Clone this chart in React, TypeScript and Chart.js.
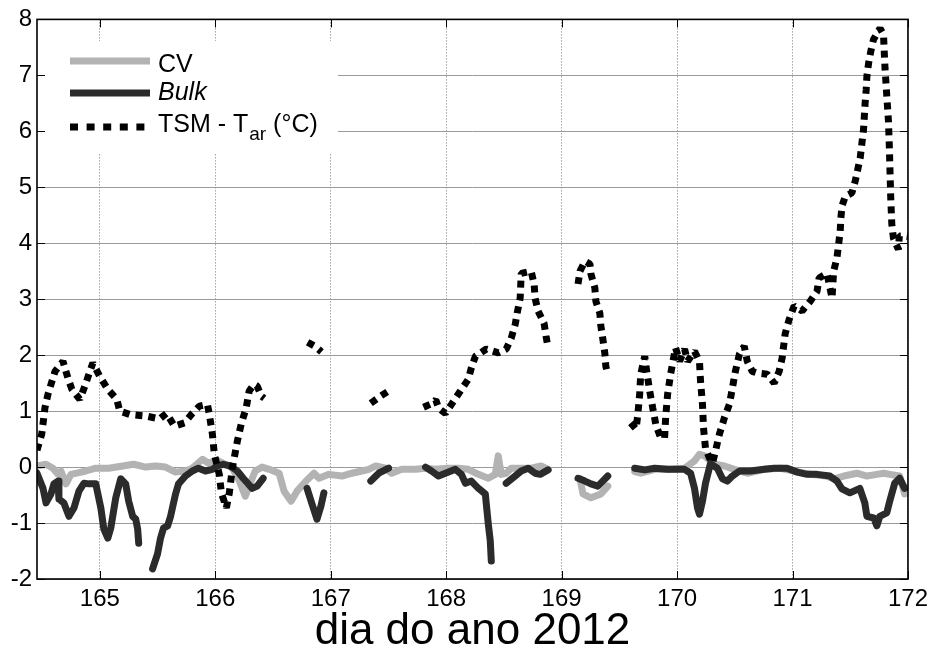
import React, { useEffect, useRef } from "react";
import { Chart, registerables } from "chart.js";

Chart.register(...registerables);

// ---- tick labels ----
const xTickValues = [165, 166, 167, 168, 169, 170, 171, 172];
const yTickValues = [-2, -1, 0, 1, 2, 3, 4, 5, 6, 7, 8];
const xAxisTitle = "dia do ano 2012";
const legendLabels = ["CV", "Bulk", "TSM - T", "ar", " (°C)"];

// ---- TSM - Tar (°C), null = gap ----
const tsmDays = [
  164.456, 164.497, 164.525, 164.551, 164.612, 164.681, 164.724, 164.758, 164.827, 164.871,
  164.914, 164.94, 165.0, 165.069, 165.147, 165.173, 165.259, 165.406, 165.518, 165.578,
  165.647, 165.733, 165.802, 165.863, 165.932, 165.949, 165.975, 165.992, 166.035, 166.053,
  166.096, 166.122, 166.148, 166.191, 166.225, 166.268, 166.294, 166.337, 166.363, 166.398,
  166.424, 166.6,
  166.8, 166.87, 166.92, 167.1,
  167.347, 167.433, 167.502, 167.65,
  167.804, 167.87, 167.91, 167.935, 167.994, 168.046, 168.123, 168.192, 168.218, 168.253,
  168.348, 168.451, 168.52, 168.563, 168.598, 168.615, 168.641, 168.65, 168.736, 168.762,
  168.77, 168.796, 168.848, 168.865, 168.883, 169.0,
  169.142, 169.159, 169.202, 169.245, 169.254, 169.288, 169.297, 169.331, 169.34, 169.357,
  169.374, 169.383, 169.4, 169.5,
  169.599, 169.645, 169.66, 169.676, 169.685, 169.72, 169.737, 169.763, 169.789, 169.815,
  169.858, 169.892, 169.901, 169.918, 169.944, 169.97, 169.987, 170.022, 170.065, 170.091,
  170.151, 170.194, 170.203, 170.22, 170.229, 170.246, 170.281, 170.307, 170.333, 170.367,
  170.41, 170.453, 170.479, 170.505, 170.54, 170.582, 170.608, 170.651, 170.695, 170.781,
  170.841, 170.884, 170.91, 170.936, 170.971, 171.014, 171.083, 171.152, 171.212, 171.23,
  171.299, 171.342, 171.356, 171.385, 171.399, 171.413, 171.418, 171.428, 171.457, 171.514,
  171.543, 171.586, 171.601, 171.615, 171.622, 171.629, 171.638, 171.644, 171.659, 171.678,
  171.701, 171.758, 171.788, 171.793, 171.801, 171.816, 171.831, 171.839, 171.845, 171.851,
  171.86, 171.874, 171.917, 171.925, 171.965, 172.0,
];
const tsmValues = [
  0.3, 0.59, 1.06, 1.3, 1.71, 1.89, 1.59, 1.39, 1.21, 1.45,
  1.71, 1.86, 1.62, 1.39, 1.21, 1.0, 0.94, 0.91, 0.86, 0.96,
  0.73, 0.79, 0.96, 1.09, 1.12, 0.94, 0.59, 0.23, -0.13, -0.46,
  -0.73, -0.46, -0.02, 0.46, 0.77, 1.06, 1.36, 1.48, 1.45, 1.27,
  1.23, null,
  2.23, 2.15, 2.06, null,
  1.14, 1.27, 1.36, null,
  1.07, 1.13, 1.2, 1.05, 0.96, 1.12, 1.36, 1.57, 1.77, 1.98,
  2.11, 2.04, 2.11, 2.3, 2.55, 2.75, 3.02, 3.46, 3.5, 3.27,
  3.02, 2.79, 2.57, 2.34, 2.13, null,
  3.27, 3.5, 3.68, 3.63, 3.45, 3.2, 2.96, 2.75, 2.52, 2.29,
  2.04, 1.8, 1.66, null,
  0.79, 0.68, 0.94, 1.3, 1.66, 1.98, 1.71, 1.36, 1.06, 0.77,
  0.52, 0.52, 0.88, 1.3, 1.66, 1.95, 2.13, 1.89, 2.11, 1.89,
  2.07, 1.89, 1.54, 1.12, 0.7, 0.34, 0.16, 0.07, 0.29, 0.59,
  0.88, 1.12, 1.41, 1.71, 2.02, 2.16, 1.89, 1.71, 1.68, 1.66,
  1.5, 1.71, 1.95, 2.38, 2.64, 2.88, 2.79, 2.96, 3.14, 3.38,
  3.46, 3.02, 3.5, 3.74, 3.98, 4.21, 4.43, 4.66, 4.84, 4.9,
  5.11, 5.52, 5.79, 6.03, 6.27, 6.51, 6.74, 6.98, 7.22, 7.43,
  7.64, 7.84, 7.73, 7.49, 7.13, 6.65, 6.18, 5.7, 5.23, 4.79,
  4.34, 4.09, 3.89, 4.13, 4.13, 4.12,
];

// ---- CV ----
const cvDays = [
  164.456, 164.534, 164.594, 164.638, 164.663, 164.707, 164.75, 164.819, 164.879, 164.965,
  165.078, 165.198, 165.293, 165.397, 165.483, 165.569, 165.656, 165.742, 165.802, 165.889,
  165.94, 166.018, 166.087, 166.148, 166.199, 166.26, 166.303, 166.346, 166.406, 166.467,
  166.553, 166.596, 166.657, 166.708, 166.786, 166.855, 166.898, 166.984, 167.097, 167.183,
  167.269, 167.33, 167.39, 167.476, 167.528, 167.614, 167.735, 167.821, 167.908, 168.02,
  168.106, 168.192, 168.279, 168.365, 168.425, 168.451, 168.477, 168.52, 168.563, 168.65,
  168.736, 168.822, 168.883, 169.0,
  169.159, 169.185, 169.254, 169.34, 169.4, 169.5,
  169.633, 169.685, 169.806, 169.944, 170.065, 170.151, 170.194, 170.237, 170.289, 170.324,
  170.41, 170.496, 170.608, 170.755, 170.893, 171.014, 171.152, 171.289, 171.359, 171.445,
  171.557, 171.644, 171.73, 171.791, 171.842, 171.928, 171.971,
];
const cvValues = [
  0.02, 0.05, -0.02, -0.13, -0.07, -0.3, -0.13, -0.1, -0.07, -0.02,
  -0.02, 0.02, 0.05, 0.0, 0.02, 0.0, -0.09, -0.07, -0.02, 0.14,
  0.07, 0.12, 0.05, -0.02, -0.2, -0.52, -0.29, -0.07, 0.0, -0.04,
  -0.11, -0.43, -0.61, -0.43, -0.25, -0.11, -0.2, -0.13, -0.16, -0.11,
  -0.07, -0.04, 0.02, -0.02, -0.11, -0.04, -0.04, -0.02, -0.04, -0.02,
  -0.02, -0.04, -0.13, -0.2, -0.13, 0.2, -0.13, -0.11, -0.02, -0.02,
  -0.02, 0.02, -0.04, null,
  -0.21, -0.48, -0.55, -0.48, -0.34, null,
  -0.08, -0.11, -0.04, -0.04, -0.02, 0.11, 0.23, 0.2, 0.11, 0.05,
  0.02, -0.04, -0.11, -0.04, -0.02, -0.07, -0.13, -0.16, -0.21, -0.16,
  -0.11, -0.16, -0.13, -0.11, -0.13, -0.16, -0.48,
];

// ---- Bulk ----
const bulkDays = [
  164.456, 164.508, 164.534, 164.577, 164.603, 164.638, 164.646, 164.689, 164.733, 164.776,
  164.819, 164.862, 164.905, 164.965, 165.009, 165.035, 165.069, 165.095, 165.138, 165.181,
  165.224, 165.25, 165.285, 165.311, 165.328, 165.337, 165.4,
  165.457, 165.5, 165.526, 165.552, 165.587, 165.613, 165.656, 165.682, 165.742, 165.802,
  165.854, 165.915, 165.975, 166.018, 166.07, 166.13, 166.191, 166.242, 166.32, 166.363,
  166.415, 166.6,
  166.795, 166.838, 166.881, 166.915, 166.941, 167.1,
  167.347, 167.416, 167.502, 167.65,
  167.821, 167.873, 167.934, 167.994, 168.08, 168.132, 168.167, 168.218, 168.279, 168.339,
  168.365, 168.382, 168.391, 168.45,
  168.52, 168.598, 168.65, 168.71, 168.77, 168.814, 168.883, 169.0,
  169.142, 169.202, 169.254, 169.314, 169.4, 169.5,
  169.633, 169.72, 169.806, 169.918, 170.065, 170.117, 170.151, 170.177, 170.194, 170.22,
  170.246, 170.289, 170.349, 170.393, 170.436, 170.479, 170.54, 170.634, 170.755, 170.841,
  170.953, 171.04, 171.126, 171.212, 171.324, 171.385, 171.428, 171.497, 171.583, 171.626,
  171.644, 171.704, 171.73, 171.756, 171.816, 171.842, 171.885, 171.928, 171.971,
];
const bulkValues = [
  -0.11, -0.38, -0.64, -0.48, -0.3, -0.25, -0.57, -0.64, -0.88, -0.73,
  -0.43, -0.29, -0.3, -0.3, -0.73, -1.11, -1.27, -1.09, -0.55, -0.21,
  -0.3, -0.61, -0.88, -0.93, -1.11, -1.36, null,
  -1.82, -1.55, -1.27, -1.09, -1.05, -0.88, -0.48, -0.3, -0.16, -0.07,
  -0.02, -0.07, -0.04, 0.02, 0.05, 0.02, -0.07, -0.2, -0.38, -0.34,
  -0.2, null,
  -0.38, -0.66, -0.93, -0.7, -0.46, null,
  -0.25, -0.11, -0.02, null,
  0.0, -0.07, -0.16, -0.11, -0.04, -0.13, -0.29, -0.25, -0.38, -0.48,
  -1.02, -1.32, -1.68, null,
  -0.29, -0.16, -0.07, -0.02, -0.11, -0.13, -0.05, null,
  -0.2, -0.25, -0.3, -0.34, -0.16, null,
  -0.02, -0.05, -0.02, -0.04, -0.04, -0.11, -0.38, -0.73, -0.84, -0.61,
  -0.29, 0.06, -0.02, -0.21, -0.25, -0.16, -0.07, -0.07, -0.04, -0.02,
  -0.02, -0.09, -0.13, -0.13, -0.16, -0.25, -0.39, -0.46, -0.38, -0.64,
  -0.88, -0.91, -1.05, -0.88, -0.82, -0.61, -0.29, -0.2, -0.38,
];

const CV_COLOR = "#b3b3b3";
const BULK_COLOR = "#2b2b2b";
const TSM_COLOR = "#000000";
const FONT = '"Liberation Sans", Arial, Helvetica, sans-serif';

const toPoints = (days: number[], vals: (number | null)[]) =>
  days.map((d, i) => ({ x: d, y: vals[i] }));

const legendPlugin = {
  id: "customLegend",
  beforeDatasetsDraw(chart: any) {
    const ctx = chart.ctx as CanvasRenderingContext2D;
    ctx.save();
    ctx.fillStyle = "#ffffff";
    ctx.fillRect(45, 41, 293, 112);

    const x0 = 70;
    const x1 = 150;
    const tx = 158;
    ctx.lineCap = "butt";
    ctx.lineWidth = 7;
    ctx.strokeStyle = CV_COLOR;
    ctx.beginPath();
    ctx.moveTo(x0, 61);
    ctx.lineTo(x1, 61);
    ctx.stroke();
    ctx.strokeStyle = BULK_COLOR;
    ctx.beginPath();
    ctx.moveTo(x0, 93);
    ctx.lineTo(x1, 93);
    ctx.stroke();
    ctx.strokeStyle = TSM_COLOR;
    ctx.lineWidth = 7;
    ctx.setLineDash([8, 8.6]);
    ctx.beginPath();
    ctx.moveTo(x0, 127);
    ctx.lineTo(x1, 127);
    ctx.stroke();
    ctx.setLineDash([]);

    ctx.fillStyle = "#000";
    ctx.textBaseline = "alphabetic";
    ctx.textAlign = "left";
    ctx.font = `25px ${FONT}`;
    ctx.fillText(legendLabels[0], tx, 72);
    ctx.font = `italic 25px ${FONT}`;
    ctx.fillText(legendLabels[1], tx, 100);
    ctx.font = `25px ${FONT}`;
    ctx.fillText(legendLabels[2], tx, 132);
    const w = ctx.measureText(legendLabels[2]).width;
    ctx.font = `19px ${FONT}`;
    ctx.fillText(legendLabels[3], tx + w + 1, 140);
    const w2 = ctx.measureText(legendLabels[3]).width;
    ctx.font = `25px ${FONT}`;
    ctx.fillText(legendLabels[4], tx + w + 1 + w2, 132);
    ctx.restore();
  },
};

const boxPlugin = {
  id: "boxTicks",
  afterDraw(chart: any) {
    const ctx = chart.ctx as CanvasRenderingContext2D;
    const { left, right, top, bottom } = chart.chartArea;
    const xs = chart.scales.x;
    const ys = chart.scales.y;
    ctx.save();
    ctx.strokeStyle = "#000";
    ctx.lineWidth = 1;
    const tl = 8;
    ctx.beginPath();
    xTickValues.forEach((v) => {
      const px = Math.round(xs.getPixelForValue(v)) + 0.5;
      ctx.moveTo(px, bottom);
      ctx.lineTo(px, bottom - tl);
      ctx.moveTo(px, top);
      ctx.lineTo(px, top + tl);
    });
    yTickValues.forEach((v) => {
      const py = Math.round(ys.getPixelForValue(v)) + 0.5;
      ctx.moveTo(left, py);
      ctx.lineTo(left + tl, py);
      ctx.moveTo(right, py);
      ctx.lineTo(right - tl, py);
    });
    ctx.stroke();
    ctx.lineWidth = 1.6;
    ctx.strokeRect(left, top, right - left, bottom - top);
    ctx.restore();
  },
};

export default function App() {
  const canvasRef = useRef<HTMLCanvasElement | null>(null);

  useEffect(() => {
    const canvas = canvasRef.current;
    if (!canvas) return;
    const chart = new Chart(canvas, {
      type: "line",
      data: {
        datasets: [
          {
            label: "TSM - Tar (°C)",
            data: toPoints(tsmDays, tsmValues),
            borderColor: TSM_COLOR,
            borderWidth: 7,
            borderDash: [7, 6],
            borderCapStyle: "butt",
            borderJoinStyle: "bevel",
            pointRadius: 0,
            tension: 0,
            spanGaps: false,
            clip: 0,
            order: 0,
          },
          {
            label: "Bulk",
            data: toPoints(bulkDays, bulkValues),
            borderColor: BULK_COLOR,
            borderWidth: 7,
            borderCapStyle: "round",
            borderJoinStyle: "round",
            pointRadius: 0,
            tension: 0,
            spanGaps: false,
            clip: 0,
            order: 1,
          },
          {
            label: "CV",
            data: toPoints(cvDays, cvValues),
            borderColor: CV_COLOR,
            borderWidth: 7,
            borderCapStyle: "round",
            borderJoinStyle: "round",
            pointRadius: 0,
            tension: 0,
            spanGaps: false,
            clip: 0,
            order: 2,
          },
        ] as any,
      },
      options: {
        animation: false,
        responsive: false,
        devicePixelRatio: 1,
        events: [],
        layout: { padding: { top: 18, right: 23, left: 0, bottom: 0 } },
        plugins: {
          legend: { display: false },
          tooltip: { enabled: false },
          title: { display: false },
        },
        scales: {
          x: {
            type: "linear",
            min: 164.456,
            max: 172,
            afterBuildTicks: (s: any) => {
              s.ticks = xTickValues.map((v) => ({ value: v }));
            },
            afterFit: (s: any) => {
              s.height = 70;
            },
            ticks: {
              autoSkip: false,
              maxRotation: 0,
              padding: 6,
              color: "#000",
              font: { family: FONT, size: 24 },
              callback: (v: any) => String(v),
            },
            grid: { color: "#777777", lineWidth: 1, drawTicks: false },
            border: { display: false, dash: [1, 2] },
            title: {
              display: true,
              text: xAxisTitle,
              color: "#000",
              font: { family: FONT, size: 44, lineHeight: 0.8 },
              padding: { top: 0, bottom: 0 },
            },
          },
          y: {
            type: "linear",
            min: -2,
            max: 8,
            afterBuildTicks: (s: any) => {
              s.ticks = yTickValues.map((v) => ({ value: v }));
            },
            afterFit: (s: any) => {
              s.width = 37;
            },
            ticks: {
              padding: 5,
              color: "#000",
              font: { family: FONT, size: 24 },
              callback: (v: any) => String(v),
            },
            grid: { color: "#9a9a9a", lineWidth: 1, drawTicks: false },
            border: { display: false },
          },
        },
      } as any,
      plugins: [legendPlugin, boxPlugin],
    });
    return () => chart.destroy();
  }, []);

  return (
    <div style={{ position: "absolute", left: 0, top: 0, width: 934, height: 649, background: "#fff" }}>
      <canvas ref={canvasRef} width={934} height={649} style={{ width: 934, height: 649, display: "block" }} />
    </div>
  );
}
